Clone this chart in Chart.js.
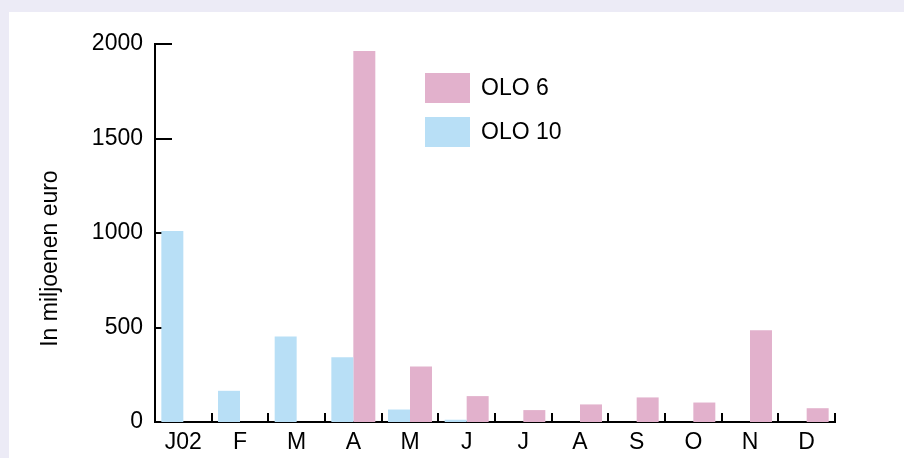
<!DOCTYPE html>
<html>
<head>
<meta charset="utf-8">
<script src="https://cdn.jsdelivr.net/npm/chart.js@4.4.1/dist/chart.umd.min.js"></script>
<style>
  html, body { margin: 0; padding: 0; background: #ecebf6; }
  #wrap { width: 904px; height: 458px; }
</style>
</head>
<body>
<div id="wrap"><canvas id="olo"></canvas></div>
<script>
// months of 2002, J02 = January 2002
const months = ['J02', 'F', 'M', 'A', 'M', 'J', 'J', 'A', 'S', 'O', 'N', 'D'];
const olo10 = [1010, 165, 453, 343, 66, 12, 0, 0, 0, 0, 0, 0];
const olo6 = [0, 0, 0, 1963, 294, 137, 63, 93, 130, 103, 485, 73];
const yTicks = [0, 500, 1000, 1500, 2000];

const FONT = "'Liberation Sans', Arial, Helvetica, sans-serif";

// page background + white panel
const panelBg = {
    id: 'panelBg',
    beforeDraw(chart) {
        const ctx = chart.ctx;
        ctx.save();
        ctx.fillStyle = '#ecebf6';
        ctx.fillRect(0, 0, chart.width, chart.height);
        ctx.fillStyle = '#ffffff';
        ctx.fillRect(9, 12, chart.width - 9, chart.height - 12);
        ctx.restore();
    }
};

// inward tick marks (y to the right, x upward at category boundaries)
const innerTicks = {
    id: 'innerTicks',
    beforeDatasetsDraw(chart) {
        const ctx = chart.ctx;
        const x = chart.scales.x, y = chart.scales.y;
        ctx.save();
        ctx.strokeStyle = '#000';
        ctx.lineWidth = 2;
        ctx.beginPath();
        yTicks.forEach(v => {
            const py = Math.round(y.getPixelForValue(v));
            ctx.moveTo(x.left, py);
            ctx.lineTo(x.left + 17, py);
        });
        const step = x.width / months.length;
        for (let i = 1; i <= months.length; i++) {
            const px = Math.round(x.left + i * step);
            ctx.moveTo(px, y.bottom);
            ctx.lineTo(px, y.bottom - 9);
        }
        ctx.stroke();
        ctx.restore();
    }
};

// legend box inside the plot, OLO 6 on top
const boxLegend = {
    id: 'boxLegend',
    afterDraw(chart) {
        const ctx = chart.ctx;
        const items = chart.data.datasets.slice().reverse();
        ctx.save();
        ctx.font = '23px ' + FONT;
        ctx.textBaseline = 'middle';
        items.forEach((ds, i) => {
            const top = 73 + i * 44;
            ctx.fillStyle = ds.backgroundColor;
            ctx.fillRect(425, top, 45, 30);
            ctx.fillStyle = '#000';
            ctx.fillText(ds.label, 481, top + 16);
        });
        ctx.restore();
    }
};

new Chart(document.getElementById('olo'), {
    type: 'bar',
    data: {
        labels: months,
        datasets: [
            {
                label: 'OLO 10',
                data: olo10,
                backgroundColor: '#b8dff6',
                borderWidth: 0,
                categoryPercentage: 0.776,
                barPercentage: 1.0
            },
            {
                label: 'OLO 6',
                data: olo6,
                backgroundColor: '#e2b1cc',
                borderWidth: 0,
                categoryPercentage: 0.776,
                barPercentage: 1.0
            }
        ]
    },
    options: {
        responsive: true,
        maintainAspectRatio: false,
        animation: false,
        layout: { padding: { left: 0, right: 69, top: 44, bottom: 0 } },
        scales: {
            x: {
                grid: { display: false, drawTicks: false },
                border: { display: true, color: '#000', width: 2 },
                ticks: { color: '#000', font: { family: FONT, size: 23 }, padding: 7, maxRotation: 0, autoSkip: false },
                afterFit(scale) { scale.height = 36; }
            },
            y: {
                min: 0,
                max: 2000,
                grid: { display: false, drawTicks: false },
                border: { display: true, color: '#000', width: 2 },
                ticks: {
                    color: '#000',
                    stepSize: 500,
                    font: { family: FONT, size: 23 },
                    padding: 12,
                    callback: v => String(v)
                },
                title: {
                    display: true,
                    // trailing spaces push the title a bit lower, like the original
                    text: 'In miljoenen euro\u00A0\u00A0\u00A0\u00A0\u00A0\u00A0\u00A0\u00A0',
                    color: '#000',
                    font: { family: FONT, size: 23 },
                    padding: { top: 37, bottom: 0 }
                },
                afterFit(scale) { scale.width = 155; }
            }
        },
        plugins: {
            legend: { display: false },
            tooltip: { enabled: false }
        }
    },
    plugins: [panelBg, innerTicks, boxLegend]
});
</script>
</body>
</html>
